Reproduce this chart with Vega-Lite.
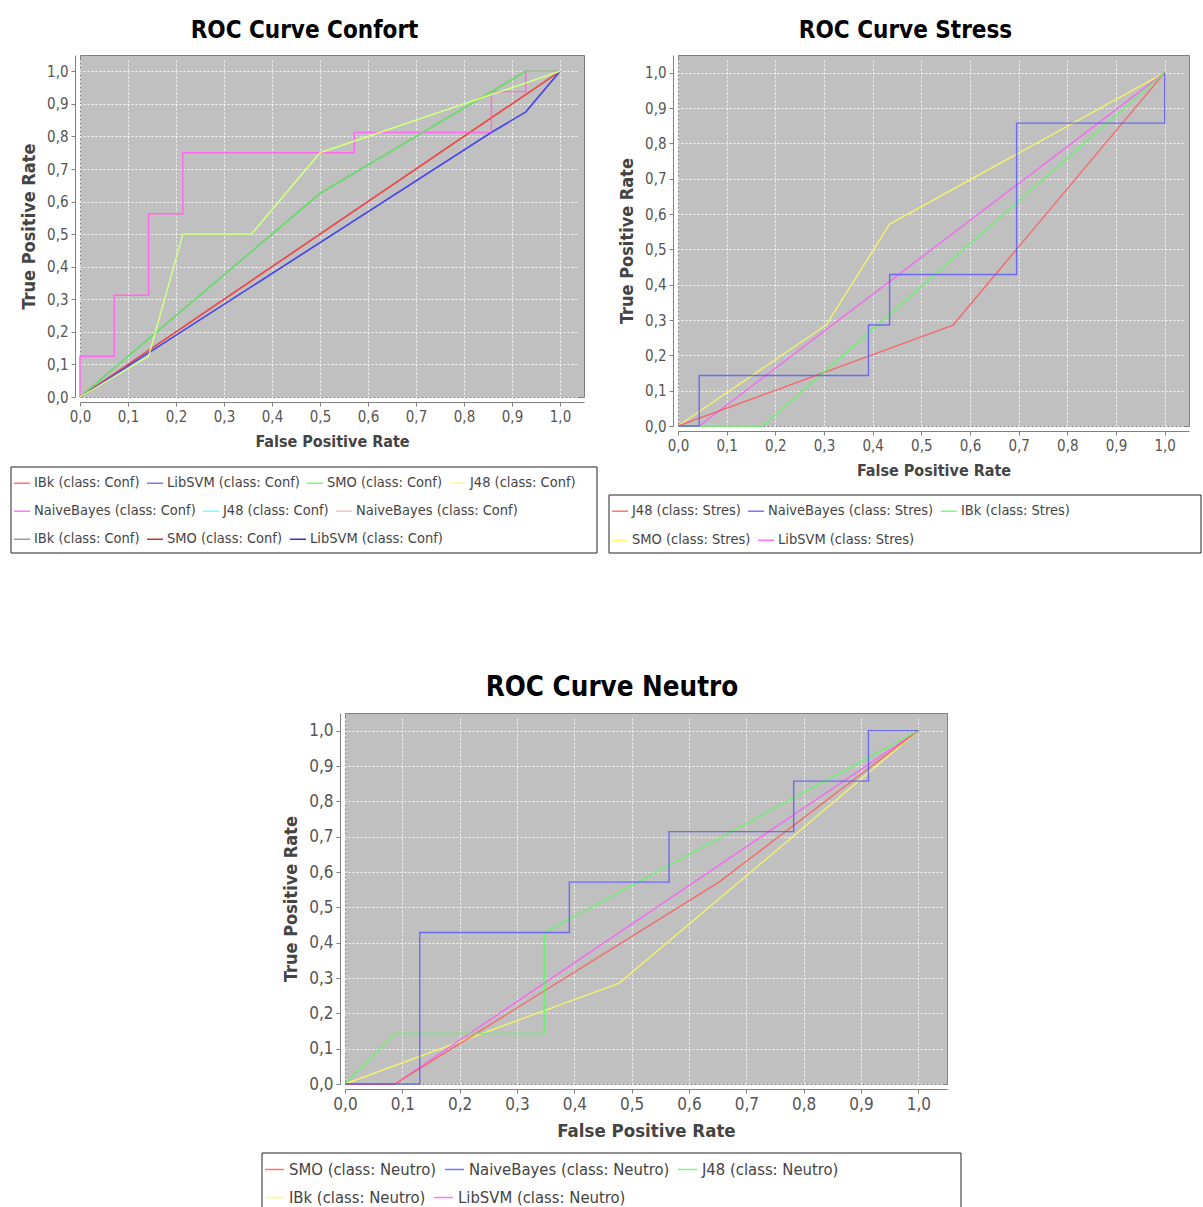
{
  "$schema": "https://vega.github.io/schema/vega-lite/v6.json",
  "background": "white",
  "padding": {"left": 10, "top": 18, "right": 0, "bottom": 0},
  "datasets": {
    "confort": [
      {"s": "NaiveBayes (class: Conf)#2", "i": 0, "fpr": 0, "tpr": 0},
      {"s": "NaiveBayes (class: Conf)#2", "i": 1, "fpr": 0, "tpr": 0.125},
      {"s": "NaiveBayes (class: Conf)#2", "i": 2, "fpr": 0.0714, "tpr": 0.125},
      {"s": "NaiveBayes (class: Conf)#2", "i": 3, "fpr": 0.0714, "tpr": 0.3125},
      {"s": "NaiveBayes (class: Conf)#2", "i": 4, "fpr": 0.1429, "tpr": 0.3125},
      {"s": "NaiveBayes (class: Conf)#2", "i": 5, "fpr": 0.1429, "tpr": 0.5625},
      {"s": "NaiveBayes (class: Conf)#2", "i": 6, "fpr": 0.2143, "tpr": 0.5625},
      {"s": "NaiveBayes (class: Conf)#2", "i": 7, "fpr": 0.2143, "tpr": 0.75},
      {"s": "NaiveBayes (class: Conf)#2", "i": 8, "fpr": 0.5714, "tpr": 0.75},
      {"s": "NaiveBayes (class: Conf)#2", "i": 9, "fpr": 0.5714, "tpr": 0.8125},
      {"s": "NaiveBayes (class: Conf)#2", "i": 10, "fpr": 0.8571, "tpr": 0.8125},
      {"s": "NaiveBayes (class: Conf)#2", "i": 11, "fpr": 0.8571, "tpr": 0.9375},
      {"s": "NaiveBayes (class: Conf)#2", "i": 12, "fpr": 0.9286, "tpr": 0.9375},
      {"s": "NaiveBayes (class: Conf)#2", "i": 13, "fpr": 0.9286, "tpr": 1},
      {"s": "NaiveBayes (class: Conf)#2", "i": 14, "fpr": 1, "tpr": 1},
      {"s": "J48 (class: Conf)#2", "i": 0, "fpr": 0, "tpr": 0},
      {"s": "J48 (class: Conf)#2", "i": 1, "fpr": 0.1429, "tpr": 0.125},
      {"s": "J48 (class: Conf)#2", "i": 2, "fpr": 0.2143, "tpr": 0.5},
      {"s": "J48 (class: Conf)#2", "i": 3, "fpr": 0.3571, "tpr": 0.5},
      {"s": "J48 (class: Conf)#2", "i": 4, "fpr": 0.5, "tpr": 0.75},
      {"s": "J48 (class: Conf)#2", "i": 5, "fpr": 1, "tpr": 1},
      {"s": "IBk (class: Conf)#2", "i": 0, "fpr": 0, "tpr": 0},
      {"s": "IBk (class: Conf)#2", "i": 1, "fpr": 0.5, "tpr": 0.625},
      {"s": "IBk (class: Conf)#2", "i": 2, "fpr": 0.9286, "tpr": 1},
      {"s": "IBk (class: Conf)#2", "i": 3, "fpr": 1, "tpr": 1},
      {"s": "SMO (class: Conf)#2", "i": 0, "fpr": 0, "tpr": 0},
      {"s": "SMO (class: Conf)#2", "i": 1, "fpr": 1, "tpr": 1},
      {"s": "LibSVM (class: Conf)#2", "i": 0, "fpr": 0, "tpr": 0},
      {"s": "LibSVM (class: Conf)#2", "i": 1, "fpr": 0.8571, "tpr": 0.8125},
      {"s": "LibSVM (class: Conf)#2", "i": 2, "fpr": 0.9286, "tpr": 0.875},
      {"s": "LibSVM (class: Conf)#2", "i": 3, "fpr": 1, "tpr": 1},
      {"s": "IBk (class: Conf)", "i": 0, "fpr": 0, "tpr": 0},
      {"s": "IBk (class: Conf)", "i": 1, "fpr": 1, "tpr": 1},
      {"s": "LibSVM (class: Conf)", "i": 0, "fpr": 0, "tpr": 0},
      {"s": "LibSVM (class: Conf)", "i": 1, "fpr": 0.8571, "tpr": 0.8125},
      {"s": "LibSVM (class: Conf)", "i": 2, "fpr": 0.9286, "tpr": 0.875},
      {"s": "LibSVM (class: Conf)", "i": 3, "fpr": 1, "tpr": 1},
      {"s": "SMO (class: Conf)", "i": 0, "fpr": 0, "tpr": 0},
      {"s": "SMO (class: Conf)", "i": 1, "fpr": 0.5, "tpr": 0.625},
      {"s": "SMO (class: Conf)", "i": 2, "fpr": 0.9286, "tpr": 1},
      {"s": "SMO (class: Conf)", "i": 3, "fpr": 1, "tpr": 1},
      {"s": "J48 (class: Conf)", "i": 0, "fpr": 0, "tpr": 0},
      {"s": "J48 (class: Conf)", "i": 1, "fpr": 0.1429, "tpr": 0.125},
      {"s": "J48 (class: Conf)", "i": 2, "fpr": 0.2143, "tpr": 0.5},
      {"s": "J48 (class: Conf)", "i": 3, "fpr": 0.3571, "tpr": 0.5},
      {"s": "J48 (class: Conf)", "i": 4, "fpr": 0.5, "tpr": 0.75},
      {"s": "J48 (class: Conf)", "i": 5, "fpr": 1, "tpr": 1},
      {"s": "NaiveBayes (class: Conf)", "i": 0, "fpr": 0, "tpr": 0},
      {"s": "NaiveBayes (class: Conf)", "i": 1, "fpr": 0, "tpr": 0.125},
      {"s": "NaiveBayes (class: Conf)", "i": 2, "fpr": 0.0714, "tpr": 0.125},
      {"s": "NaiveBayes (class: Conf)", "i": 3, "fpr": 0.0714, "tpr": 0.3125},
      {"s": "NaiveBayes (class: Conf)", "i": 4, "fpr": 0.1429, "tpr": 0.3125},
      {"s": "NaiveBayes (class: Conf)", "i": 5, "fpr": 0.1429, "tpr": 0.5625},
      {"s": "NaiveBayes (class: Conf)", "i": 6, "fpr": 0.2143, "tpr": 0.5625},
      {"s": "NaiveBayes (class: Conf)", "i": 7, "fpr": 0.2143, "tpr": 0.75},
      {"s": "NaiveBayes (class: Conf)", "i": 8, "fpr": 0.5714, "tpr": 0.75},
      {"s": "NaiveBayes (class: Conf)", "i": 9, "fpr": 0.5714, "tpr": 0.8125},
      {"s": "NaiveBayes (class: Conf)", "i": 10, "fpr": 0.8571, "tpr": 0.8125},
      {"s": "NaiveBayes (class: Conf)", "i": 11, "fpr": 0.8571, "tpr": 0.9375},
      {"s": "NaiveBayes (class: Conf)", "i": 12, "fpr": 0.9286, "tpr": 0.9375},
      {"s": "NaiveBayes (class: Conf)", "i": 13, "fpr": 0.9286, "tpr": 1},
      {"s": "NaiveBayes (class: Conf)", "i": 14, "fpr": 1, "tpr": 1}
    ],
    "stress": [
      {"s": "J48 (class: Stres)", "i": 0, "fpr": 0, "tpr": 0},
      {"s": "J48 (class: Stres)", "i": 1, "fpr": 0.5652, "tpr": 0.2857},
      {"s": "J48 (class: Stres)", "i": 2, "fpr": 1, "tpr": 1},
      {"s": "IBk (class: Stres)", "i": 0, "fpr": 0, "tpr": 0},
      {"s": "IBk (class: Stres)", "i": 1, "fpr": 0.1739, "tpr": 0},
      {"s": "IBk (class: Stres)", "i": 2, "fpr": 1, "tpr": 1},
      {"s": "SMO (class: Stres)", "i": 0, "fpr": 0, "tpr": 0},
      {"s": "SMO (class: Stres)", "i": 1, "fpr": 0.3043, "tpr": 0.2857},
      {"s": "SMO (class: Stres)", "i": 2, "fpr": 0.4348, "tpr": 0.5714},
      {"s": "SMO (class: Stres)", "i": 3, "fpr": 1, "tpr": 1},
      {"s": "LibSVM (class: Stres)", "i": 0, "fpr": 0, "tpr": 0},
      {"s": "LibSVM (class: Stres)", "i": 1, "fpr": 0.0435, "tpr": 0},
      {"s": "LibSVM (class: Stres)", "i": 2, "fpr": 1, "tpr": 1},
      {"s": "NaiveBayes (class: Stres)", "i": 0, "fpr": 0, "tpr": 0},
      {"s": "NaiveBayes (class: Stres)", "i": 1, "fpr": 0.0435, "tpr": 0},
      {"s": "NaiveBayes (class: Stres)", "i": 2, "fpr": 0.0435, "tpr": 0.1429},
      {"s": "NaiveBayes (class: Stres)", "i": 3, "fpr": 0.3913, "tpr": 0.1429},
      {"s": "NaiveBayes (class: Stres)", "i": 4, "fpr": 0.3913, "tpr": 0.2857},
      {"s": "NaiveBayes (class: Stres)", "i": 5, "fpr": 0.4348, "tpr": 0.2857},
      {"s": "NaiveBayes (class: Stres)", "i": 6, "fpr": 0.4348, "tpr": 0.4286},
      {"s": "NaiveBayes (class: Stres)", "i": 7, "fpr": 0.6957, "tpr": 0.4286},
      {"s": "NaiveBayes (class: Stres)", "i": 8, "fpr": 0.6957, "tpr": 0.8571},
      {"s": "NaiveBayes (class: Stres)", "i": 9, "fpr": 1, "tpr": 0.8571},
      {"s": "NaiveBayes (class: Stres)", "i": 10, "fpr": 1, "tpr": 1}
    ],
    "neutro": [
      {"s": "SMO (class: Neutro)", "i": 0, "fpr": 0, "tpr": 0},
      {"s": "SMO (class: Neutro)", "i": 1, "fpr": 0.087, "tpr": 0},
      {"s": "SMO (class: Neutro)", "i": 2, "fpr": 0.6522, "tpr": 0.5714},
      {"s": "SMO (class: Neutro)", "i": 3, "fpr": 1, "tpr": 1},
      {"s": "J48 (class: Neutro)", "i": 0, "fpr": 0, "tpr": 0},
      {"s": "J48 (class: Neutro)", "i": 1, "fpr": 0.087, "tpr": 0.1429},
      {"s": "J48 (class: Neutro)", "i": 2, "fpr": 0.3478, "tpr": 0.1429},
      {"s": "J48 (class: Neutro)", "i": 3, "fpr": 0.3478, "tpr": 0.4286},
      {"s": "J48 (class: Neutro)", "i": 4, "fpr": 1, "tpr": 1},
      {"s": "IBk (class: Neutro)", "i": 0, "fpr": 0, "tpr": 0},
      {"s": "IBk (class: Neutro)", "i": 1, "fpr": 0.4783, "tpr": 0.2857},
      {"s": "IBk (class: Neutro)", "i": 2, "fpr": 1, "tpr": 1},
      {"s": "LibSVM (class: Neutro)", "i": 0, "fpr": 0, "tpr": 0},
      {"s": "LibSVM (class: Neutro)", "i": 1, "fpr": 0.087, "tpr": 0},
      {"s": "LibSVM (class: Neutro)", "i": 2, "fpr": 1, "tpr": 1},
      {"s": "NaiveBayes (class: Neutro)", "i": 0, "fpr": 0, "tpr": 0},
      {"s": "NaiveBayes (class: Neutro)", "i": 1, "fpr": 0.1304, "tpr": 0},
      {"s": "NaiveBayes (class: Neutro)", "i": 2, "fpr": 0.1304, "tpr": 0.4286},
      {"s": "NaiveBayes (class: Neutro)", "i": 3, "fpr": 0.3913, "tpr": 0.4286},
      {"s": "NaiveBayes (class: Neutro)", "i": 4, "fpr": 0.3913, "tpr": 0.5714},
      {"s": "NaiveBayes (class: Neutro)", "i": 5, "fpr": 0.5652, "tpr": 0.5714},
      {"s": "NaiveBayes (class: Neutro)", "i": 6, "fpr": 0.5652, "tpr": 0.7143},
      {"s": "NaiveBayes (class: Neutro)", "i": 7, "fpr": 0.7826, "tpr": 0.7143},
      {"s": "NaiveBayes (class: Neutro)", "i": 8, "fpr": 0.7826, "tpr": 0.8571},
      {"s": "NaiveBayes (class: Neutro)", "i": 9, "fpr": 0.913, "tpr": 0.8571},
      {"s": "NaiveBayes (class: Neutro)", "i": 10, "fpr": 0.913, "tpr": 1},
      {"s": "NaiveBayes (class: Neutro)", "i": 11, "fpr": 1, "tpr": 1}
    ]
  },
  "vconcat": [
    {
      "hconcat": [
        {
          "width": 504, "height": 342,
          "title": "ROC Curve Confort",
          "data": {"name": "confort"},
          "encoding": {
            "x": {"field": "fpr", "type": "quantitative", "scale": {"domain": [0, 1.05], "nice": false, "zero": false},
                  "axis": {"title": "False Positive Rate", "values": [0, 0.1, 0.2, 0.3, 0.4, 0.5, 0.6, 0.7, 0.8, 0.9, 1.0], "labelExpr": "replace(format(datum.value, '.1f'), '.', ',')"}},
            "y": {"field": "tpr", "type": "quantitative", "scale": {"domain": [0, 1.05], "nice": false, "zero": false},
                  "axis": {"title": "True Positive Rate", "values": [0, 0.1, 0.2, 0.3, 0.4, 0.5, 0.6, 0.7, 0.8, 0.9, 1.0], "labelExpr": "replace(format(datum.value, '.1f'), '.', ',')"}},
            "order": {"field": "i", "type": "quantitative"}
          },
          "layer": [
            {
              "mark": {"type": "point", "filled": true, "opacity": 0},
              "encoding": {"fill": {"field": "i", "type": "quantitative", "scale": {"range": ["rgba(255,255,255,0)", "rgba(255,255,255,0)"]},
                "legend": {"orient": "none", "legendX": -69, "legendY": 412, "direction": "horizontal", "title": null, "padding": 0,
                           "gradientLength": 586, "gradientThickness": 86, "gradientStrokeColor": "#222222", "gradientStrokeWidth": 1,
                           "labelExpr": "''", "labelOpacity": 0, "labelFontSize": 1}}}
            },
            {
              "transform": [{"filter": {"field": "s", "oneOf": ["IBk (class: Conf)#2", "SMO (class: Conf)#2", "LibSVM (class: Conf)#2"]}}],
              "mark": {"type": "line", "strokeWidth": 1.4, "opacity": 0.8},
              "encoding": {"color": {"field": "s", "type": "nominal",
                "scale": {"domain": ["IBk (class: Conf)#2", "SMO (class: Conf)#2", "LibSVM (class: Conf)#2"], "range": ["#808080", "#c00000", "#0000c0"]},
                "legend": {"orient": "none", "legendX": -67, "legendY": 475, "labelExpr": "replace(datum.label, '#2', '')"}}}
            },
            {
              "transform": [{"filter": {"field": "s", "oneOf": ["NaiveBayes (class: Conf)", "J48 (class: Conf)#2", "NaiveBayes (class: Conf)#2"]}}],
              "mark": {"type": "line", "strokeWidth": 1.4, "opacity": 0.8},
              "encoding": {"color": {"field": "s", "type": "nominal",
                "scale": {"domain": ["NaiveBayes (class: Conf)", "J48 (class: Conf)#2", "NaiveBayes (class: Conf)#2"], "range": ["#ff55ff", "#55ffff", "#ffafaf"]},
                "legend": {"orient": "none", "legendX": -67, "legendY": 447, "labelExpr": "replace(datum.label, '#2', '')"}}}
            },
            {
              "transform": [{"filter": {"field": "s", "oneOf": ["IBk (class: Conf)", "LibSVM (class: Conf)", "SMO (class: Conf)", "J48 (class: Conf)"]}}],
              "mark": {"type": "line", "strokeWidth": 1.4, "opacity": 0.8},
              "encoding": {"color": {"field": "s", "type": "nominal",
                "scale": {"domain": ["IBk (class: Conf)", "LibSVM (class: Conf)", "SMO (class: Conf)", "J48 (class: Conf)"], "range": ["#ff5555", "#5555ff", "#55ff55", "#ffff55"]},
                "legend": {"orient": "none", "legendX": -67, "legendY": 419}}}
            }
          ],
          "resolve": {"scale": {"color": "independent"}, "legend": {"color": "independent"}}
        },
        {
          "width": 511, "height": 371,
          "title": "ROC Curve Stress",
          "data": {"name": "stress"},
          "encoding": {
            "x": {"field": "fpr", "type": "quantitative", "scale": {"domain": [0, 1.05], "nice": false, "zero": false},
                  "axis": {"title": "False Positive Rate", "values": [0, 0.1, 0.2, 0.3, 0.4, 0.5, 0.6, 0.7, 0.8, 0.9, 1.0], "labelExpr": "replace(format(datum.value, '.1f'), '.', ',')"}},
            "y": {"field": "tpr", "type": "quantitative", "scale": {"domain": [0, 1.05], "nice": false, "zero": false},
                  "axis": {"title": "True Positive Rate", "values": [0, 0.1, 0.2, 0.3, 0.4, 0.5, 0.6, 0.7, 0.8, 0.9, 1.0], "labelExpr": "replace(format(datum.value, '.1f'), '.', ',')"}},
            "order": {"field": "i", "type": "quantitative"}
          },
          "layer": [
            {
              "mark": {"type": "point", "filled": true, "opacity": 0},
              "encoding": {"fill": {"field": "i", "type": "quantitative", "scale": {"range": ["rgba(255,255,255,0)", "rgba(255,255,255,0)"]},
                "legend": {"orient": "none", "legendX": -69, "legendY": 440, "direction": "horizontal", "title": null, "padding": 0,
                           "gradientLength": 592, "gradientThickness": 58, "gradientStrokeColor": "#222222", "gradientStrokeWidth": 1,
                           "labelExpr": "''", "labelOpacity": 0, "labelFontSize": 1}}}
            },
            {
              "transform": [{"filter": {"field": "s", "oneOf": ["SMO (class: Stres)", "LibSVM (class: Stres)"]}}],
              "mark": {"type": "line", "strokeWidth": 1.4, "opacity": 0.8},
              "encoding": {"color": {"field": "s", "type": "nominal",
                "scale": {"domain": ["SMO (class: Stres)", "LibSVM (class: Stres)"], "range": ["#ffff55", "#ff55ff"]},
                "legend": {"orient": "none", "legendX": -67, "legendY": 476}}}
            },
            {
              "transform": [{"filter": {"field": "s", "oneOf": ["J48 (class: Stres)", "NaiveBayes (class: Stres)", "IBk (class: Stres)"]}}],
              "mark": {"type": "line", "strokeWidth": 1.4, "opacity": 0.8},
              "encoding": {"color": {"field": "s", "type": "nominal",
                "scale": {"domain": ["J48 (class: Stres)", "NaiveBayes (class: Stres)", "IBk (class: Stres)"], "range": ["#ff5555", "#5555ff", "#55ff55"]},
                "legend": {"orient": "none", "legendX": -67, "legendY": 447}}}
            }
          ],
          "resolve": {"scale": {"color": "independent"}, "legend": {"color": "independent"}}
        }
      ],
      "spacing": 9,
      "resolve": {"scale": {"color": "independent", "fill": "independent", "x": "independent", "y": "independent"}, "legend": {"color": "independent", "fill": "independent"}}
    },
    {
      "hconcat": [
        {
          "width": 181, "height": 10,
          "data": {"values": []},
          "mark": {"type": "point"},
          "view": {"fill": null, "stroke": null}
        },
        {
          "width": 602, "height": 371,
          "title": {"text": "ROC Curve Neutro", "fontSize": 27.5},
          "data": {"name": "neutro"},
          "encoding": {
            "x": {"field": "fpr", "type": "quantitative", "scale": {"domain": [0, 1.05], "nice": false, "zero": false},
                  "axis": {"title": "False Positive Rate", "labelFontSize": 17, "titleFontSize": 18.5, "values": [0, 0.1, 0.2, 0.3, 0.4, 0.5, 0.6, 0.7, 0.8, 0.9, 1.0], "labelExpr": "replace(format(datum.value, '.1f'), '.', ',')"}},
            "y": {"field": "tpr", "type": "quantitative", "scale": {"domain": [0, 1.05], "nice": false, "zero": false},
                  "axis": {"title": "True Positive Rate", "labelFontSize": 17, "values": [0, 0.1, 0.2, 0.3, 0.4, 0.5, 0.6, 0.7, 0.8, 0.9, 1.0], "labelExpr": "replace(format(datum.value, '.1f'), '.', ',')"}},
            "order": {"field": "i", "type": "quantitative"}
          },
          "layer": [
            {
              "mark": {"type": "point", "filled": true, "opacity": 0},
              "encoding": {"fill": {"field": "i", "type": "quantitative", "scale": {"range": ["rgba(255,255,255,0)", "rgba(255,255,255,0)"]},
                "legend": {"orient": "none", "legendX": -83, "legendY": 440, "direction": "horizontal", "title": null, "padding": 0,
                           "gradientLength": 699, "gradientThickness": 58, "gradientStrokeColor": "#222222", "gradientStrokeWidth": 1,
                           "labelExpr": "''", "labelOpacity": 0, "labelFontSize": 1}}}
            },
            {
              "transform": [{"filter": {"field": "s", "oneOf": ["IBk (class: Neutro)", "LibSVM (class: Neutro)"]}}],
              "mark": {"type": "line", "strokeWidth": 1.4, "opacity": 0.8},
              "encoding": {"color": {"field": "s", "type": "nominal",
                "scale": {"domain": ["IBk (class: Neutro)", "LibSVM (class: Neutro)"], "range": ["#ffff55", "#ff55ff"]},
                "legend": {"orient": "none", "legendX": -81, "legendY": 474, "labelFontSize": 16.5, "symbolSize": 361, "labelOffset": 4, "columnPadding": 5}}}
            },
            {
              "transform": [{"filter": {"field": "s", "oneOf": ["SMO (class: Neutro)", "NaiveBayes (class: Neutro)", "J48 (class: Neutro)"]}}],
              "mark": {"type": "line", "strokeWidth": 1.4, "opacity": 0.8},
              "encoding": {"color": {"field": "s", "type": "nominal",
                "scale": {"domain": ["SMO (class: Neutro)", "NaiveBayes (class: Neutro)", "J48 (class: Neutro)"], "range": ["#ff5555", "#5555ff", "#55ff55"]},
                "legend": {"orient": "none", "legendX": -81, "legendY": 446, "labelFontSize": 16.5, "symbolSize": 361, "labelOffset": 4, "columnPadding": 5}}}
            }
          ],
          "resolve": {"scale": {"color": "independent"}, "legend": {"color": "independent"}}
        }
      ],
      "spacing": 0,
      "resolve": {"scale": {"color": "independent", "fill": "independent", "x": "independent", "y": "independent"}, "legend": {"color": "independent", "fill": "independent"}}
    }
  ],
  "spacing": 116,
  "resolve": {"scale": {"color": "independent", "fill": "independent", "x": "independent", "y": "independent"}, "legend": {"color": "independent", "fill": "independent"}},
  "config": {
    "font": "DejaVu Sans Condensed",
    "view": {"fill": "#c0c0c0", "stroke": "#808080", "strokeWidth": 1},
    "title": {"fontSize": 24, "fontWeight": "bold", "color": "#000000", "anchor": "middle", "frame": "bounds", "offset": 12},
    "axis": {
      "domainColor": "#808080", "tickColor": "#808080", "tickSize": 4, "offset": 5,
      "labelFontSize": 15, "labelColor": "#555555", "labelPadding": 3, "labelFlush": false, "labelOverlap": false,
      "titleFontSize": 16, "titleColor": "#444444", "titleFontWeight": "bold",
      "gridColor": "#ffffff", "gridDash": [2, 2], "gridOpacity": 0.85, "gridWidth": 1
    },
    "axisY": {"titlePadding": 8, "titleFontSize": 18},
    "axisX": {"titlePadding": 9},
    "legend": {
      "title": null, "direction": "horizontal",
      "symbolType": "stroke", "symbolSize": 256, "symbolStrokeWidth": 1.5,
      "labelFontSize": 14.5, "labelColor": "#444444", "labelOffset": 3, "labelLimit": 400,
      "columnPadding": 4, "padding": 0
    }
  }
}
